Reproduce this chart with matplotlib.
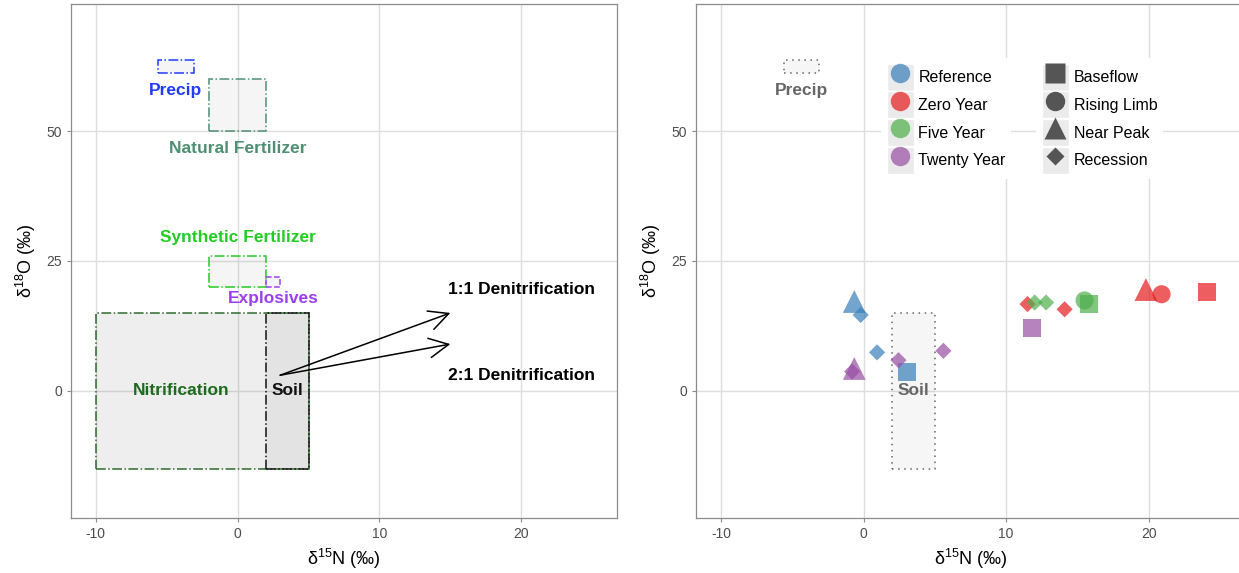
import matplotlib.pyplot as plt
from matplotlib.patches import Rectangle, Patch
from matplotlib.lines import Line2D
from matplotlib.legend_handler import HandlerTuple

plt.rcParams['font.family'] = ['Liberation Sans', 'DejaVu Sans']
plt.rcParams['mathtext.default'] = 'regular'
plt.rcParams['axes.unicode_minus'] = False

# source boxes (left panel): name, x range, y range
box_names = ['Precip', 'Natural Fertilizer', 'Synthetic Fertilizer', 'Explosives', 'Nitrification', 'Soil']
box_x0 = [-5.6, -2, -2, 2, -10, 2]
box_x1 = [-3.1, 2, 2, 3, 5, 5]
box_y0 = [61.3, 50, 20, 20, -15, -15]
box_y1 = [63.7, 60, 26, 22, 15, 15]
label_x = [-4.35, 0, 0, 2.5, -4.0, 3.5]
label_y = [57.9, 46.7, 29.5, 17.7, 0, 0]

# denitrification vectors
arrow_start = (3, 3)
arrow_ends = [(15, 15), (15, 9)]
arrow_labels = ['1:1 Denitrification', '2:1 Denitrification']
arrow_label_y = [19.6, 2.9]

# right panel samples
periods = ['Reference', 'Zero Year', 'Five Year', 'Twenty Year']
phases = ['Baseflow', 'Rising Limb', 'Near Peak', 'Recession']
pt_period = ['Reference', 'Reference', 'Reference', 'Reference',
             'Twenty Year', 'Twenty Year', 'Twenty Year', 'Twenty Year', 'Twenty Year',
             'Zero Year', 'Zero Year', 'Zero Year', 'Zero Year', 'Zero Year',
             'Five Year', 'Five Year', 'Five Year', 'Five Year']
pt_phase = ['Near Peak', 'Recession', 'Recession', 'Baseflow',
            'Near Peak', 'Recession', 'Recession', 'Recession', 'Baseflow',
            'Recession', 'Recession', 'Near Peak', 'Rising Limb', 'Baseflow',
            'Recession', 'Recession', 'Rising Limb', 'Baseflow']
pt_x = [-0.65, -0.2, 0.95, 3.05,
        -0.65, -0.8, 2.45, 5.6, 11.8,
        11.5, 14.1, 19.8, 20.9, 24.1,
        12.0, 12.8, 15.5, 15.8]
pt_y = [17.2, 14.6, 7.4, 3.7,
        4.3, 3.7, 5.9, 7.7, 12.1,
        16.7, 15.7, 19.5, 18.6, 19.0,
        17.0, 17.0, 17.4, 16.8]

box_colors = ['#1f3cff', '#4e8f74', '#22cc22', '#9b3ff0', '#2e6b2e', '#111111']
text_colors = ['#1f3cff', '#4e8f74', '#22cc22', '#9b3ff0', '#1d6b1d', '#111111']
box_styles = ['dashdot', 'dashdot', 'dashdot', 'dashed', 'dashdot', 'dashdot']
box_alpha = [0.04, 0.04, 0.04, 0.04, 0.065, 0.045]
period_colors = {'Reference': '#377eb8', 'Zero Year': '#e41a1c',
                 'Five Year': '#4daf4a', 'Twenty Year': '#984ea3'}
phase_markers = {'Baseflow': 's', 'Rising Limb': 'o', 'Near Peak': '^', 'Recession': 'D'}
phase_sizes = {'Baseflow': 170, 'Rising Limb': 170, 'Near Peak': 270, 'Recession': 68}

fig = plt.figure(figsize=(12.39, 5.73), dpi=100)
ax1 = fig.add_axes([71 / 1239, 55 / 573, 546 / 1239, 514 / 573])
ax2 = fig.add_axes([696 / 1239, 55 / 573, 549 / 1239, 514 / 573])


def style_axes(ax):
    ax.set_xlim(-11.75, 26.75)
    ax.set_ylim(-24.5, 74.5)
    ax.set_xticks([-10, 0, 10, 20])
    ax.set_yticks([0, 25, 50])
    ax.grid(True, color='#dedede', lw=1.0)
    ax.set_axisbelow(True)
    for s in ax.spines.values():
        s.set_color('#8c8c8c')
        s.set_linewidth(0.9)
    ax.tick_params(colors='#8c8c8c', labelcolor='#4d4d4d', labelsize=10, length=3)
    ax.set_xlabel('δ$^{15}$N (‰)', fontsize=13, labelpad=4)
    ax.set_ylabel('δ$^{18}$O (‰)', fontsize=13, labelpad=6)


style_axes(ax1)
style_axes(ax2)

# left panel: source boxes
for i, name in enumerate(box_names):
    ax1.add_patch(Rectangle((box_x0[i], box_y0[i]), box_x1[i] - box_x0[i], box_y1[i] - box_y0[i],
                            facecolor=(0, 0, 0, box_alpha[i]), edgecolor=box_colors[i],
                            linestyle=box_styles[i], lw=1.1, zorder=2))
    ax1.text(label_x[i], label_y[i], name, color=text_colors[i], fontsize=12.5,
             fontweight='bold', ha='center', va='center', zorder=4)

for end, lab, ly in zip(arrow_ends, arrow_labels, arrow_label_y):
    ax1.annotate('', xy=end, xytext=arrow_start,
                 arrowprops=dict(arrowstyle='->,head_length=0.7,head_width=0.35',
                                 color='black', lw=1.1, mutation_scale=20,
                                 shrinkA=0, shrinkB=0), zorder=5)
    ax1.text(20, ly, lab, fontsize=12.5, fontweight='bold', ha='center', va='center')

# right panel: precip and soil reference boxes
for i in [0, 5]:
    ax2.add_patch(Rectangle((box_x0[i], box_y0[i]), box_x1[i] - box_x0[i], box_y1[i] - box_y0[i],
                            facecolor=(0, 0, 0, 0.035), edgecolor='#666666',
                            linestyle=(0, (1, 3)), lw=1.1, zorder=2))
    ax2.text(label_x[i], label_y[i], box_names[i], color='#666666', fontsize=12.5,
             fontweight='bold', ha='center', va='center', zorder=3)

for x, y, per, ph in zip(pt_x, pt_y, pt_period, pt_phase):
    ax2.scatter(x, y, s=phase_sizes[ph], marker=phase_markers[ph],
                color=period_colors[per], alpha=0.7, edgecolors='none', zorder=4)

key_bg = Patch(facecolor='#ebebeb', edgecolor='white', lw=1)
col_handles = [(key_bg, Line2D([], [], ls='', marker='o', ms=14, color=period_colors[p],
                               alpha=0.7, mec='none')) for p in periods]
shape_ms = {'Baseflow': 14, 'Rising Limb': 14, 'Near Peak': 16, 'Recession': 9.5}
shp_handles = [(key_bg, Line2D([], [], ls='', marker=phase_markers[p], ms=shape_ms[p],
                               color='#555555', mec='none')) for p in phases]

leg_kw = dict(loc='upper left', fontsize=11.5, frameon=True, facecolor='white',
              edgecolor='none', framealpha=1, fancybox=False, handlelength=1.69,
              handleheight=2.22, labelspacing=0.05, handletextpad=0.3,
              borderpad=0.35, borderaxespad=0,
              handler_map={tuple: HandlerTuple(ndivide=1, pad=0)})
leg1 = ax2.legend(col_handles, periods, bbox_to_anchor=(0.337, 0.895), **leg_kw)
ax2.add_artist(leg1)
ax2.legend(shp_handles, phases, bbox_to_anchor=(0.62, 0.895), **leg_kw)

fig.savefig('out.png', dpi=100)
